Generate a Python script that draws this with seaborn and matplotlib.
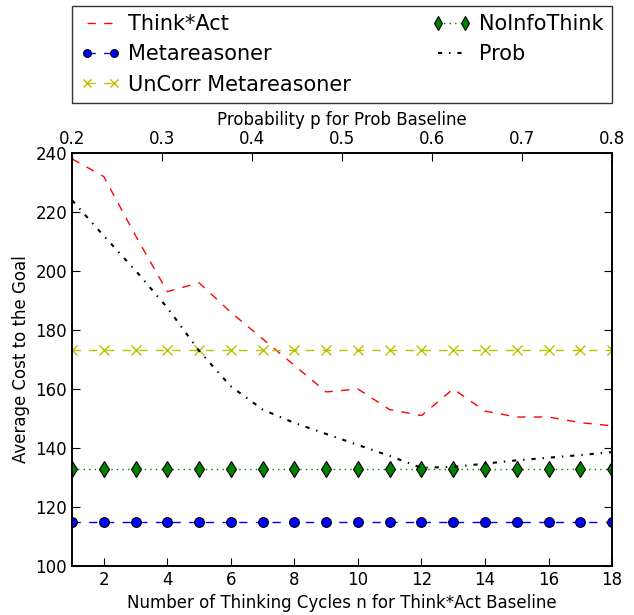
import matplotlib
matplotlib.use("Agg")
import matplotlib.pyplot as plt
import seaborn as sns
import pandas as pd

# ---- data ----
n_cycles = [1, 2, 3, 4, 5, 6, 7, 8, 9, 10, 11, 12, 13, 14, 15, 16, 17, 18]
think_act = [238, 232, 212, 193, 196, 186, 177, 168, 159, 160, 153, 151, 160, 152.5, 150.5, 150.5, 148.6, 147.5]
metareasoner = [115] * 18
uncorr_meta = [173.3] * 18
noinfo_think = [133] * 18
prob_p = [0.2, 0.235, 0.271, 0.306, 0.341, 0.376, 0.412, 0.447, 0.482,
          0.518, 0.553, 0.588, 0.624, 0.659, 0.694, 0.729, 0.765, 0.8]
prob_cost = [224, 212, 200, 187.5, 173, 161, 153, 148.5, 144.8, 141, 137.3, 133.3,
             133.6, 134.7, 135.8, 136.7, 137.6, 138.6]
bottom_ticks = [2, 4, 6, 8, 10, 12, 14, 16, 18]
top_ticks = [0.2, 0.3, 0.4, 0.5, 0.6, 0.7, 0.8]
y_ticks = [100, 120, 140, 160, 180, 200, 220, 240]

sns.set_style("ticks")
plt.rcParams.update({
    "font.family": ["DejaVu Sans"],
    "text.color": "black",
    "axes.labelcolor": "black",
    "xtick.color": "black",
    "ytick.color": "black",
    "xtick.direction": "in",
    "ytick.direction": "in",
    "ytick.right": True,
    "xtick.major.size": 6,
    "ytick.major.size": 6,
    "xtick.major.width": 0.8,
    "ytick.major.width": 0.8,
    "axes.linewidth": 1.2,
    "axes.edgecolor": "black",
    "lines.dashed_pattern": [6, 6],
    "lines.dashdot_pattern": [3, 5, 1, 5],
    "lines.dotted_pattern": [1, 3],
    "lines.scale_dashes": False,
    "legend.numpoints": 2,
    "xtick.labelsize": 12,
    "ytick.labelsize": 12,
    "axes.labelsize": 12,
})

fig = plt.figure(figsize=(6.34, 6.15), dpi=100)
ax = fig.add_axes([0.1136, 0.0797, 0.8518, 0.6715])

sns.lineplot(x=n_cycles, y=think_act, ax=ax, color="r", linestyle="--", lw=1, label="Think*Act")
sns.lineplot(x=n_cycles, y=metareasoner, ax=ax, color="b", linestyle="--", lw=1, marker="o",
             markersize=7, markeredgecolor="k", markeredgewidth=0.8, label="Metareasoner")
sns.lineplot(x=n_cycles, y=uncorr_meta, ax=ax, color="#bfbf00", linestyle="--", lw=1, marker="x",
             markersize=7, markeredgecolor="#bfbf00", markeredgewidth=1, label="UnCorr Metareasoner")
sns.lineplot(x=n_cycles, y=noinfo_think, ax=ax, color="#008000", linestyle=":", lw=1, marker="d",
             markersize=8.5, markeredgecolor="k", markeredgewidth=0.8, label="NoInfoThink")

ax.set_xlim(1, 18)
ax.set_ylim(100, 240)
ax.set_xticks(bottom_ticks)
ax.set_yticks(y_ticks)
ax.set_xlabel("Number of Thinking Cycles n for Think*Act Baseline")
ax.set_ylabel("Average Cost to the Goal")

ax2 = ax.twiny()
sns.lineplot(x=prob_p, y=prob_cost, ax=ax2, color="k", linestyle="-.", lw=1.5, label="Prob")
ax2.set_xlim(0.2, 0.8)
ax2.set_xticks(top_ticks)
ax2.set_xlabel("Probability p for Prob Baseline")
ax2.tick_params(axis="x", direction="in", length=6, colors="black")

h1, l1 = ax.get_legend_handles_labels()
h2, l2 = ax2.get_legend_handles_labels()
if ax.get_legend():
    ax.get_legend().remove()
if ax2.get_legend():
    ax2.get_legend().remove()
leg = ax2.legend(h1 + h2, l1 + l2, ncol=2, loc="lower left", mode="expand",
                 bbox_to_anchor=(0, 1.121, 1, 0.235), borderaxespad=0,
                 fontsize=15, frameon=True, fancybox=False, handlelength=1.9,
                 handletextpad=0.37, labelspacing=0.5, markerscale=0.8)
leg.get_frame().set_edgecolor("black")
leg.get_frame().set_linewidth(1.0)

for s in ax.spines.values():
    s.set_color("black")

fig.savefig("out.png", dpi=100)
